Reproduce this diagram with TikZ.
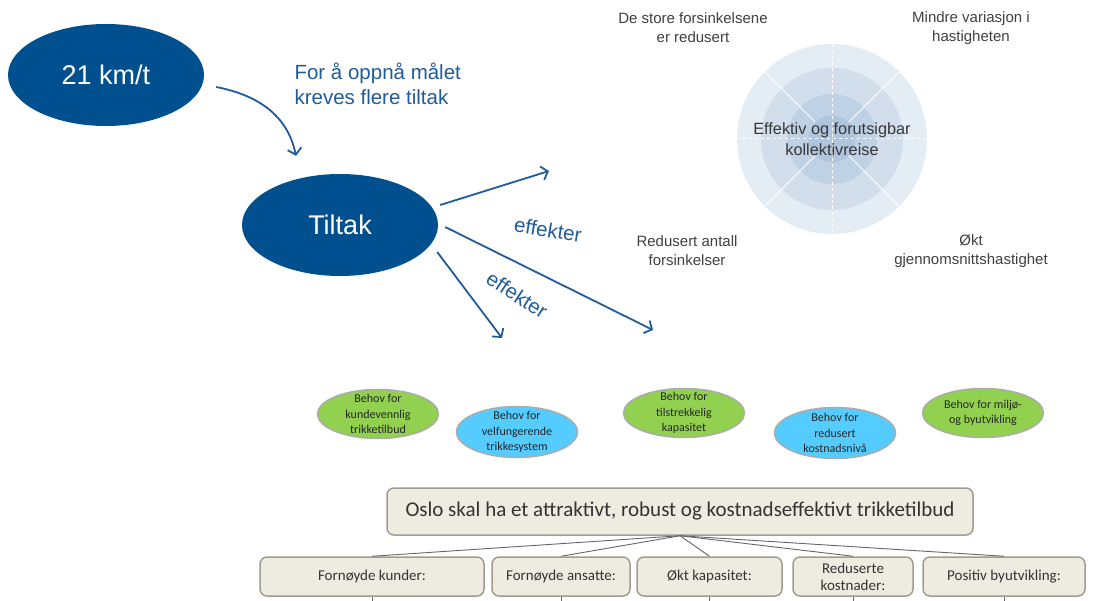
\documentclass[tikz,border=0pt]{standalone}
\usepackage{fontspec}
\setmainfont{Liberation Sans}
\newfontfamily\calibri{Carlito}
\usetikzlibrary{shapes.geometric,arrows.meta,positioning}

\definecolor{tiltakblue}{HTML}{00508F}
\definecolor{arrowblue}{HTML}{1F5C99}
\definecolor{textgray}{HTML}{404040}
\definecolor{ringA}{HTML}{E4ECF4}
\definecolor{ringB}{HTML}{D2DEEB}
\definecolor{ringC}{HTML}{BFD1E4}
\definecolor{ringD}{HTML}{AFC5DE}
\definecolor{behovgreen}{HTML}{92D050}
\definecolor{behovblue}{HTML}{55CCFF}
\definecolor{boxfill}{HTML}{EEECE1}
\definecolor{boxdraw}{HTML}{A19D8C}

\begin{document}
\begin{tikzpicture}[x=1pt, y=-1pt,
    goal/.style={ellipse, fill=tiltakblue, text=white, minimum width=196pt, minimum height=102pt, inner sep=0pt, font=\fontsize{27}{32}\selectfont},
    effarrow/.style={draw=arrowblue, line width=1.8pt, -{Straight Barb[length=6pt,width=14pt]}},
    bluetext/.style={text=arrowblue, font=\fontsize{20.5}{25}\selectfont},
    effect/.style={text=textgray, align=center, font=\fontsize{15}{19}\selectfont},
    need/.style={ellipse, draw=gray!65, line width=1.5pt, minimum width=121pt, minimum height=49pt, inner xsep=0pt, inner ysep=-6pt, align=center, text=black!85, font=\calibri\fontsize{12}{15.5}\selectfont},
    box/.style={rectangle, rounded corners=7pt, draw=boxdraw, line width=1.5pt, fill=boxfill, minimum height=39pt, inner sep=0pt, align=center, text=black!80, font=\calibri\fontsize{15}{17}\selectfont},
    ringline/.style={white, line width=1pt},
    treeline/.style={gray!80!black, line width=0.9pt}]

    \useasboundingbox (0,0) rectangle (1114,601);

    % Nodes
    \node[goal] (kmt) at (106,75) {21 km/t};
    \node[goal] (tiltak) at (340,225) {Tiltak};
    \node[bluetext, anchor=west, align=left] (maal) at (291,84) {For å oppnå målet\\kreves flere tiltak};

    % Arrow ends
    \coordinate (e1) at (549,171);
    \coordinate (e2) at (653,330);
    \coordinate (e3) at (502,338);

    \draw[effarrow] ([shift={(12,12)}]kmt.east) .. controls (262,96) and (288,118) .. ([shift={(-44,-18)}]tiltak.north);
    \draw[effarrow] ([shift={(2,-20)}]tiltak.east) -- (e1);
    \draw[effarrow] ([shift={(7,2)}]tiltak.east) -- (e2);
    \draw[effarrow] ([shift={(-1,27)}]tiltak.east) -- (e3);

    \node[bluetext, rotate=-9] (eff1) at (548,230) {effekter};
    \node[bluetext, rotate=-33] (eff2) at (517,295) {effekter};

    % Target circle
    \coordinate (circ) at (832,139);
    \fill[ringA] (circ) circle (95);
    \fill[ringB] (circ) circle (71);
    \fill[ringC] (circ) circle (45);
    \fill[ringD] (circ) circle (23.5);
    \draw[ringline, dashed] ([shift={(0,-95)}]circ) -- ([shift={(0,95)}]circ);
    \draw[ringline, dashed] ([shift={(-95,0)}]circ) -- ([shift={(95,0)}]circ);
    \foreach \a in {45,135,225,315}
        \draw[ringline] ([shift={(\a:24)}]circ) -- ([shift={(\a:95)}]circ);
    \node[text=black!78, align=center, font=\fontsize{16.3}{20.7}\selectfont] (reise) at (circ) {Effektiv og forutsigbar\\kollektivreise};

    \node[effect] (store) at (693,28) {De store forsinkelsene\\er redusert};
    \node[effect] (variasjon) at (971,28) {Mindre variasjon i\\hastigheten};
    \node[effect] (antall) at (687,251) {Redusert antall\\forsinkelser};
    \node[effect] (snitt) at (971,251) {Økt\\gjennomsnittshastighet};

    % Needs
    \node[need, fill=behovgreen] (kunde) at (378,414) {Behov for\\kundevennlig\\trikketilbud};
    \node[need, fill=behovblue, minimum height=51pt] (system) at (517,432) {Behov for\\velfungerende\\trikkesystem};
    \node[need, fill=behovgreen] (kapasitet) at (684,413) {Behov for\\tilstrekkelig\\kapasitet};
    \node[need, fill=behovblue, minimum height=51pt] (kostnad) at (835,433) {Behov for\\redusert\\kostnadsnivå};
    \node[need, fill=behovgreen] (miljo) at (983,413) {Behov for miljø-\\og byutvikling};

    % Goal tree
    \node[box, minimum width=586pt, minimum height=47pt, font=\calibri\fontsize{21}{25}\selectfont] (oslo) at (680,511.5) {Oslo skal ha et attraktivt, robust og kostnadseffektivt trikketilbud};
    \node[box, minimum width=224pt] (kunder) at (372,576.5) {Fornøyde kunder:};
    \node[box, minimum width=138pt] (ansatte) at (561,576.5) {Fornøyde ansatte:};
    \node[box, minimum width=145pt] (kap) at (709.5,576.5) {Økt kapasitet:};
    \node[box, minimum width=120pt] (red) at (853,576.5) {Reduserte\\kostnader:};
    \node[box, minimum width=162pt] (byutv) at (1004,576.5) {Positiv byutvikling:};

    \foreach \b in {kunder,ansatte,kap,red,byutv} {
        \draw[treeline] (oslo.south) -- (\b.north);
        \draw[treeline] (\b.south) -- +(0,6);  % continues below
    }

\end{tikzpicture}
\end{document}
